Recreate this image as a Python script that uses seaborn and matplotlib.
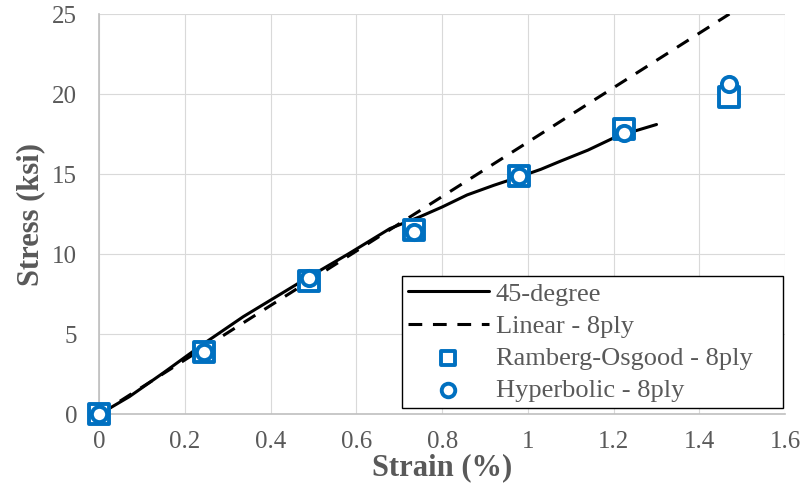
import matplotlib
matplotlib.use("Agg")
import matplotlib.pyplot as plt
import seaborn as sns
import pandas as pd

# 45-degree test curve
curve_strain = [0.0, 0.07, 0.15, 0.243, 0.336, 0.41, 0.484, 0.58, 0.678, 0.749,
                0.80, 0.858, 0.92, 0.982, 1.03, 1.075, 1.14, 1.199, 1.25, 1.30]
curve_stress = [0.0, 1.1, 2.6, 4.4, 6.1, 7.3, 8.5, 10.0, 11.6, 12.35,
                12.95, 13.7, 14.3, 14.85, 15.3, 15.8, 16.5, 17.25, 17.7, 18.1]

# model points
model_strain = [0.0, 0.245, 0.49, 0.735, 0.98, 1.225, 1.47]
linear_stress = [0.0, 4.17, 8.33, 12.5, 16.66, 20.83, 25.0]
ro_stress = [0.0, 3.9, 8.3, 11.5, 14.9, 17.8, 19.8]
hyp_stress = [0.0, 3.9, 8.5, 11.4, 14.9, 17.6, 20.6]

curve = pd.DataFrame({"strain": curve_strain, "stress": curve_stress})
model = pd.DataFrame({"strain": model_strain, "linear": linear_stress,
                      "ro": ro_stress, "hyp": hyp_stress})

sns.set_style("whitegrid", {"grid.color": "#D9D9D9", "axes.edgecolor": "#BFBFBF"})
plt.rcParams["font.family"] = ["Liberation Serif", "DejaVu Serif"]

fig = plt.figure(figsize=(8.04, 4.96), dpi=100)
ax = fig.add_axes([0.1235, 0.1647, 0.853, 0.807])

blue = "#0070C0"
sns.lineplot(data=curve, x="strain", y="stress", ax=ax, color="black", lw=2.2,
             label="45-degree", zorder=3)
sns.lineplot(data=model, x="strain", y="linear", ax=ax, color="black", lw=2.2,
             label="Linear - 8ply", zorder=3)
ax.lines[-1].set_dashes([4.5, 3.5])
sns.scatterplot(data=model, x="strain", y="ro", ax=ax, marker="s", s=190,
                facecolor="white", edgecolor=blue, linewidth=2.8, clip_on=False,
                label="Ramberg-Osgood - 8ply", zorder=4)
sns.scatterplot(data=model, x="strain", y="hyp", ax=ax, marker="o", s=120,
                facecolor="white", edgecolor=blue, linewidth=2.8, clip_on=False,
                label="Hyperbolic - 8ply", zorder=5)

ax.set_xlim(0, 1.6)
ax.set_ylim(0, 25)
ax.set_xticks([0, 0.2, 0.4, 0.6, 0.8, 1.0, 1.2, 1.4, 1.6])
ax.set_xticklabels(["0", "0.2", "0.4", "0.6", "0.8", "1", "1.2", "1.4", "1.6"])
ax.set_yticks([0, 5, 10, 15, 20, 25])
ax.tick_params(labelsize=18, labelcolor="#595959", length=0)
ax.tick_params(axis="x", pad=12)
ax.tick_params(axis="y", pad=16)
for side in ["top", "right"]:
    ax.spines[side].set_visible(False)
for side in ["left", "bottom"]:
    ax.spines[side].set_color("#BFBFBF")
    ax.spines[side].set_linewidth(1.2)

ax.set_xlabel("Strain (%)", fontsize=22, fontweight="bold", color="#595959", labelpad=0)
ax.set_ylabel("Stress (ksi)", fontsize=22, fontweight="bold", color="#595959", labelpad=5)

# legend box spans a fixed width, text left-aligned inside it
leg = ax.legend(loc="lower left", bbox_to_anchor=(0.442, 0.016, 0.555, 0.3),
                mode="expand", borderaxespad=0,
                fontsize=19, frameon=True, fancybox=False, framealpha=1,
                borderpad=0.22, handlelength=3.05, labelspacing=0.33,
                handletextpad=0.27)
leg.get_frame().set_edgecolor("black")
leg.get_frame().set_linewidth(1.0)
for t in leg.get_texts():
    t.set_color("#595959")
handles = leg.legend_handles
handles[2].set_sizes([110])
handles[3].set_sizes([95])

fig.savefig("out.png", dpi=100)
